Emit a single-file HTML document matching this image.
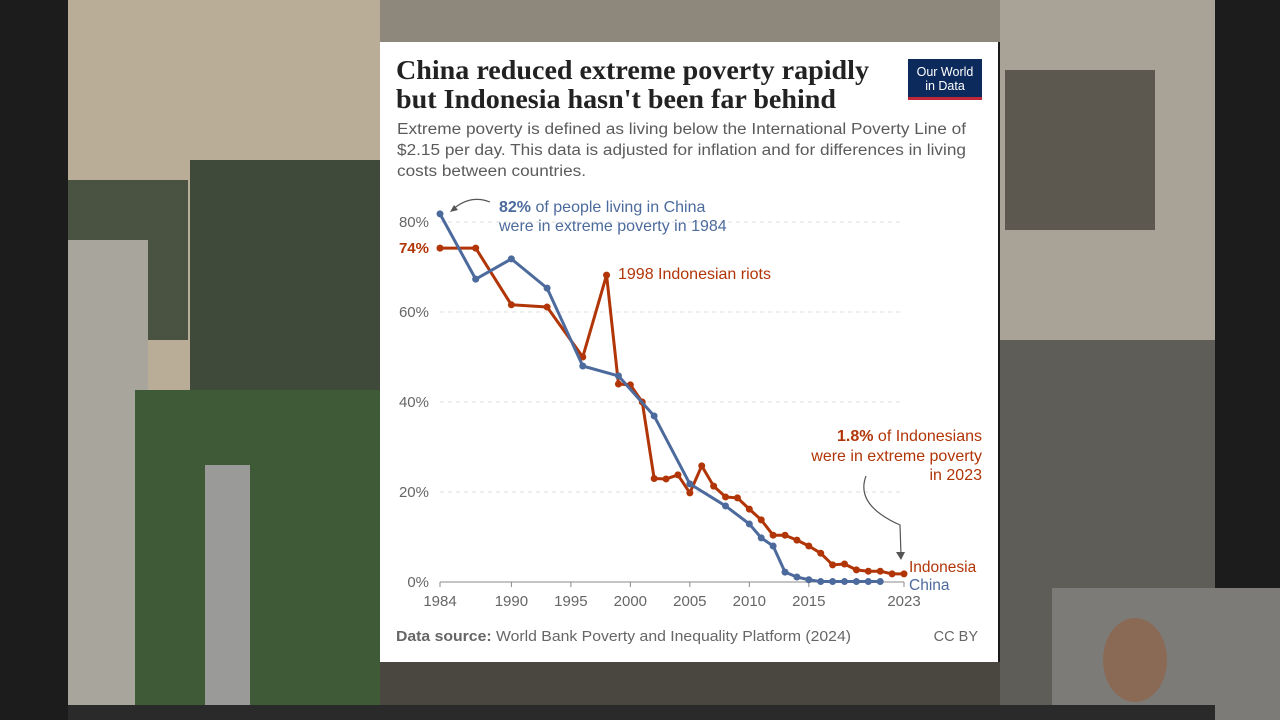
<!DOCTYPE html>
<html><head><meta charset="utf-8"><style>
body{margin:0;width:1280px;height:720px;overflow:hidden;background:#1a1a1a;font-family:"Liberation Sans",sans-serif}
svg{display:block}
</style></head><body>
<svg id="s" width="1280" height="720" xmlns="http://www.w3.org/2000/svg">
<g>
<rect x="0" y="0" width="68" height="720" fill="#1c1c1c"/>
<rect x="1215" y="0" width="65" height="720" fill="#1c1c1c"/>
<rect x="68" y="0" width="312" height="400" fill="#b9ad98"/>
<rect x="190" y="160" width="190" height="230" fill="#3f4a3a"/>
<rect x="68" y="180" width="120" height="160" fill="#4a5342"/>
<rect x="68" y="240" width="80" height="470" fill="#a8a59c"/>
<rect x="135" y="390" width="245" height="320" fill="#3e5a37"/>
<rect x="205" y="465" width="45" height="245" fill="#9a9a98"/>
<rect x="380" y="0" width="620" height="42" fill="#8d877c"/>
<rect x="380" y="662" width="620" height="58" fill="#4a4640"/>
<rect x="1000" y="0" width="215" height="340" fill="#a9a296"/>
<rect x="1005" y="70" width="150" height="160" fill="#5c5850"/>
<rect x="1000" y="340" width="215" height="370" fill="#5f5d58"/>
<rect x="1052" y="588" width="228" height="132" fill="#7d7b77"/>
<ellipse cx="1135" cy="660" rx="32" ry="42" fill="#8a6a55"/>
<rect x="68" y="705" width="1147" height="15" fill="#2a2a2a"/>
</g>
<g>
<rect x="380" y="42" width="618" height="620" fill="#fff"/>
<text x="396" y="79" font-family="Liberation Serif,serif" font-size="27" font-weight="bold" fill="#222" textLength="473" lengthAdjust="spacingAndGlyphs">China reduced extreme poverty rapidly</text>
<text x="396" y="108" font-family="Liberation Serif,serif" font-size="27" font-weight="bold" fill="#222" textLength="440" lengthAdjust="spacingAndGlyphs">but Indonesia hasn't been far behind</text>
<rect x="908" y="59" width="74" height="38" fill="#0d2a5c"/>
<rect x="908" y="97" width="74" height="3" fill="#c0283a"/>
<text x="945" y="76" font-size="12.5" fill="#fff" text-anchor="middle">Our World</text>
<text x="945" y="90" font-size="12.5" fill="#fff" text-anchor="middle">in Data</text>
<g font-size="15.5" fill="#5b5b5b">
<text x="397" y="134" textLength="569" lengthAdjust="spacingAndGlyphs">Extreme poverty is defined as living below the International Poverty Line of</text>
<text x="397" y="155" textLength="569" lengthAdjust="spacingAndGlyphs">$2.15 per day. This data is adjusted for inflation and for differences in living</text>
<text x="397" y="176" textLength="189" lengthAdjust="spacingAndGlyphs">costs between countries.</text>
</g>
<g id="plot"></g>
<text x="396" y="641" font-size="14.5" fill="#666" textLength="455" lengthAdjust="spacingAndGlyphs"><tspan font-weight="bold">Data source:</tspan> World Bank Poverty and Inequality Platform (2024)</text>
<text x="978" y="641" font-size="14.5" fill="#666" text-anchor="end">CC BY</text>
</g>
</svg>
<script>
const chinaYears=[1984,1987,1990,1993,1996,1999,2002,2005,2008,2010,2011,2012,2013,2014,2015,2016,2017,2018,2019,2020,2021];
const chinaVals=[81.8,67.3,71.8,65.3,48,45.8,36.9,21.8,16.9,12.9,9.8,8,2.2,1.1,0.5,0.1,0.1,0.1,0.1,0.1,0.1];
const indoYears=[1984,1987,1990,1993,1996,1998,1999,2000,2001,2002,2003,2004,2005,2006,2007,2008,2009,2010,2011,2012,2013,2014,2015,2016,2017,2018,2019,2020,2021,2022,2023];
const indoVals=[74.2,74.2,61.6,61.1,50,68.2,44,43.8,40,23,22.9,23.8,19.8,25.8,21.3,18.9,18.7,16.2,13.8,10.4,10.4,9.3,8,6.4,3.8,4,2.7,2.4,2.4,1.8,1.8];
const yTicks=[0,20,40,60,80];
const xTicks=[1984,1990,1995,2000,2005,2010,2015,2023];
const NS="http://www.w3.org/2000/svg";
const g=document.getElementById('plot');
const X=y=>440+(y-1984)*(464/39);
const Y=v=>582-v*4.5;
function el(t,a,txt){const e=document.createElementNS(NS,t);for(const k in a)e.setAttribute(k,a[k]);if(txt!=null)e.textContent=txt;g.appendChild(e);return e;}
yTicks.forEach(v=>{
 const l=el('line',{x1:440,x2:904,y1:Y(v),y2:Y(v),stroke:v?'#ddd':'#888','stroke-dasharray':v?'4 4':'none'});
 
 
 const t=el('text',{x:429,y:Y(v)+5,'font-size':15,fill:'#666','text-anchor':'end'},v+'%');
 
 
});
xTicks.forEach(y=>{
 el('line',{x1:X(y),x2:X(y),y1:582,y2:587,stroke:'#888'});
 const t=el('text',{x:X(y),y:606,'font-size':15,fill:'#666','text-anchor':'middle'},y);
 
 
});
function series(ys,vs,c,name){
 const p=el('polyline',{points:ys.map((y,i)=>X(y)+','+Y(vs[i])).join(' '),fill:'none',stroke:c,'stroke-width':3,'stroke-linejoin':'round'});
 
 
 ys.forEach((y,i)=>{const d=el('circle',{cx:X(y),cy:Y(vs[i]),r:3.5,fill:c});
 
 });
}
series(indoYears,indoVals,'#b13507','indonesia');
series(chinaYears,chinaVals,'#4c6a9c','china');
const t74=el('text',{x:429,y:Y(74.2)+5,'font-size':15,fill:'#b13507','font-weight':'bold','text-anchor':'end'},'74%');


const a1=el('text',{x:499,y:212,'font-size':16,fill:'#4c6a9c'});
a1.innerHTML='<tspan font-weight="bold">82%</tspan> of people living in China';


el('text',{x:499,y:231,'font-size':16,fill:'#4c6a9c'},'were in extreme poverty in 1984');
el('path',{d:'M490 202 Q470 194 452 210',fill:'none',stroke:'#555','stroke-width':1.2});
el('path',{d:'M450 212 l8 -2 l-4 -5 z',fill:'#555'});
const a2=el('text',{x:618,y:279,'font-size':16,fill:'#b13507'},'1998 Indonesian riots');


const a3=el('text',{x:982,y:441,'font-size':16,fill:'#b13507','text-anchor':'end'});
a3.innerHTML='<tspan font-weight="bold">1.8%</tspan> of Indonesians';


el('text',{x:982,y:461,'font-size':16,fill:'#b13507','text-anchor':'end'},'were in extreme poverty');
el('text',{x:982,y:480,'font-size':16,fill:'#b13507','text-anchor':'end'},'in 2023');
el('path',{d:'M866 476 Q855 505 900 525 L901 555',fill:'none',stroke:'#555','stroke-width':1.2});
el('path',{d:'M896 552 l5 8 l4 -8 z',fill:'#555'});
const li=el('text',{x:909,y:572,'font-size':15.5,fill:'#b13507'},'Indonesia');


const lc=el('text',{x:909,y:590,'font-size':15.5,fill:'#4c6a9c'},'China');


</script>
</body></html>
